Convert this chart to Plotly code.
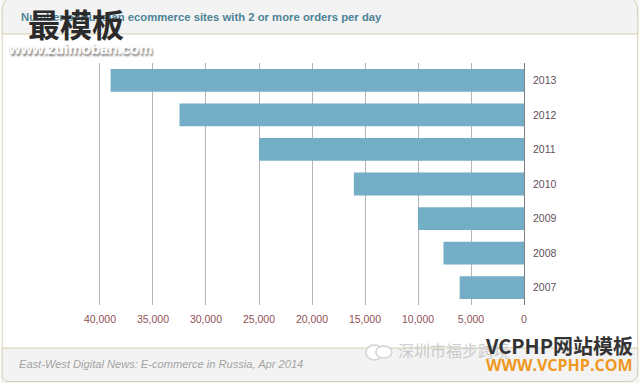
import plotly.graph_objects as go

years = ["2007", "2008", "2009", "2010", "2011", "2012", "2013"]
sites = [6070, 7600, 10000, 16050, 25000, 32500, 39000]
x_ticks = [0, 5000, 10000, 15000, 20000, 25000, 30000, 35000, 40000]
x_labels = ["0", "5,000", "10,000", "15,000", "20,000", "25,000", "30,000", "35,000", "40,000"]
title = "Number of Russian ecommerce sites with 2 or more orders per day"
source = "East-West Digital News: E-commerce in Russia, Apr 2014"

W, H = 640, 383
X_40K, X_0 = 99.5, 524.5
PAD = 5
L, R, T, B = X_40K - PAD, X_0 + PAD, 63, 305
UNITS_PER_PX = 40000 / (X_0 - X_40K)
BORDER = "#d5d0b4"
SANS = "Liberation Sans, Arial, sans-serif"


def px(v):
    return (v - L) / (R - L)


def py(v):
    return (B - v) / (B - T)


fig = go.Figure(go.Bar(y=years, x=sites, orientation="h", marker=dict(color="#73aec6", line_width=0), width=0.66))

outline = (
    f"M {px(6)},{py(0)} Q {px(1.5)},{py(3)} {px(1.5)},{py(12)} L {px(1.5)},{py(375)} "
    f"Q {px(1.5)},{py(381.5)} {px(8)},{py(381.5)} L {px(630)},{py(381.5)} "
    f"Q {px(638.5)},{py(381)} {px(638.5)},{py(372)} L {px(638.5)},{py(12)} "
    f"Q {px(638.5)},{py(3)} {px(634)},{py(0)}"
)

shapes = [
    dict(type="rect", xref="paper", yref="paper", x0=px(0), x1=px(640), y0=py(34), y1=py(0),
         fillcolor="#f3f3f3", line_width=0, layer="below"),
    dict(type="rect", xref="paper", yref="paper", x0=px(0), x1=px(640), y0=py(383), y1=py(348),
         fillcolor="#f3f3f3", line_width=0, layer="below"),
    dict(type="line", xref="paper", yref="paper", x0=px(1), x1=px(639), y0=py(34), y1=py(34),
         line=dict(color=BORDER, width=1)),
    dict(type="line", xref="paper", yref="paper", x0=px(1), x1=px(639), y0=py(348), y1=py(348),
         line=dict(color=BORDER, width=1)),
    dict(type="path", xref="paper", yref="paper", path=outline, line=dict(color=BORDER, width=1)),
    dict(type="circle", xref="paper", yref="paper", x0=px(366), x1=px(383), y0=py(360), y1=py(345),
         fillcolor="#ffffff", line=dict(color="#d2d2d2", width=1.5)),
    dict(type="circle", xref="paper", yref="paper", x0=px(376), x1=px(392), y0=py(358), y1=py(346),
         fillcolor="#ffffff", line=dict(color="#d2d2d2", width=1.5)),
]

annotations = [
    dict(text=title, x=px(18), y=py(17), font=dict(family=SANS, size=11.3, color="#4d8396"), bold=True),
    dict(text=source, x=px(16), y=py(364), font=dict(family=SANS, size=11.1, color="#a3a3a3"), italic=True),
    dict(text="深圳市福步跨境", x=px(396), y=py(350), font=dict(family="Noto Sans CJK SC", size=16, color="#cccccc")),
    dict(text="最模板", x=px(25), y=py(23), font=dict(family="Noto Sans CJK SC", size=32, color="#2b2b2b"), bold=True),
    dict(text="www.zuimoban.com", x=px(5), y=py(48), font=dict(family=SANS, size=15, color="#ffffff"), bold=True,
         shadow="1px 2px 2px #777777"),
    dict(text="VCPHP网站模板", x=px(483), y=py(345), font=dict(family="Noto Sans CJK SC", size=20, color="#333333"), bold=True),
    dict(text="WWW.VCPHP.COM", x=px(484), y=py(365), font=dict(family="Open Sans, Liberation Sans", size=16, color="#f0981e"), bold=True),
]
for a in annotations:
    bold = a.pop("bold", False)
    italic = a.pop("italic", False)
    shadow = a.pop("shadow", None)
    if bold:
        a["font"]["weight"] = "bold"
    if italic:
        a["font"]["style"] = "italic"
    if shadow:
        a["font"]["shadow"] = shadow
    a.update(xref="paper", yref="paper", xanchor="left", yanchor="middle", showarrow=False)

fig.update_layout(
    width=W, height=H, paper_bgcolor="#ffffff", plot_bgcolor="rgba(0,0,0,0)", showlegend=False,
    margin=dict(l=L, r=W - R, t=T, b=H - B),
    shapes=shapes, annotations=annotations,
    xaxis=dict(range=[40000 + PAD * UNITS_PER_PX, -PAD * UNITS_PER_PX], tickvals=x_ticks, ticktext=x_labels,
               showgrid=True, gridcolor="#b5b5b5", gridwidth=1,
               zeroline=True, zerolinecolor="#808080", zerolinewidth=1, showline=False, ticks="", ticklabelstandoff=6,
               tickfont=dict(family=SANS, size=10.5, color="#8f5158")),
    yaxis=dict(type="category", categoryorder="array", categoryarray=years, side="right", showgrid=False,
               zeroline=False, showline=False, ticks="", ticklabelstandoff=3,
               tickfont=dict(family=SANS, size=10.5, color="#5f4f5c")),
)
fig.write_html("out.html", config={"displayModeBar": False}, post_script="document.body.style.margin='0';")
